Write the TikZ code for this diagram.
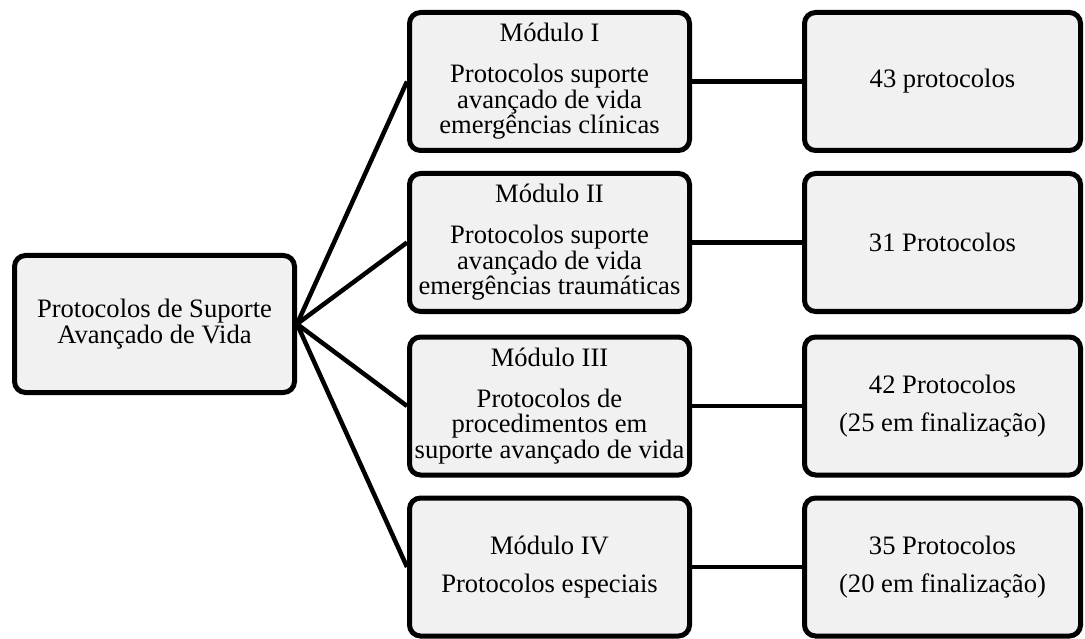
\documentclass[tikz,border=0pt]{standalone}
\usepackage{fontspec}
\setmainfont{Liberation Serif}
\definecolor{boxfill}{HTML}{F1F1F1}
\tikzset{
  box/.style={draw=black, line width=5pt, fill=boxfill, rounded corners=11pt,
    minimum width=280pt, minimum height=138pt, align=center, inner sep=2pt,
    font=\fontsize{26.6}{25.7}\selectfont},
  rbox/.style={box, minimum width=276pt},
  conn/.style={line width=4.5pt, black}
}
\begin{document}
\begin{tikzpicture}[x=1pt,y=1pt]
\useasboundingbox (0,0) rectangle (1085,-639);
\node[box, minimum height=137pt] (root) at (154.5,-324) {Protocolos de Suporte\\Avançado de Vida};
\node[box] (m1) at (549.5,-81.5) {Módulo I\\[15pt]Protocolos suporte\\avançado de vida\\emergências clínicas};
\node[box] (m2) at (549.5,-242.5) {Módulo II\\[15pt]Protocolos suporte\\avançado de vida\\emergências traumáticas};
\node[box] (m3) at (549.5,-406) {Módulo III\\[15pt]Protocolos de\\procedimentos em\\suporte avançado de vida};
\node[box] (m4) at (549.5,-567) {Módulo IV\\[11.5pt]Protocolos especiais};
\node[rbox] (r1) at (942.5,-81.5) {43 protocolos};
\node[rbox] (r2) at (942.5,-242.5) {31 Protocolos};
\node[rbox] (r3) at (942.5,-406) {42 Protocolos\\[12.5pt](25 em finalização)};
\node[rbox] (r4) at (942.5,-567) {35 Protocolos\\[12.5pt](20 em finalização)};
\foreach \m in {m1,m2,m3,m4}{
  \draw[conn] (root.east) -- (\m.west);
}
\foreach \i in {1,2,3,4}{
  \draw[conn] (m\i.east) -- (r\i.west);
}
\end{tikzpicture}
\end{document}
